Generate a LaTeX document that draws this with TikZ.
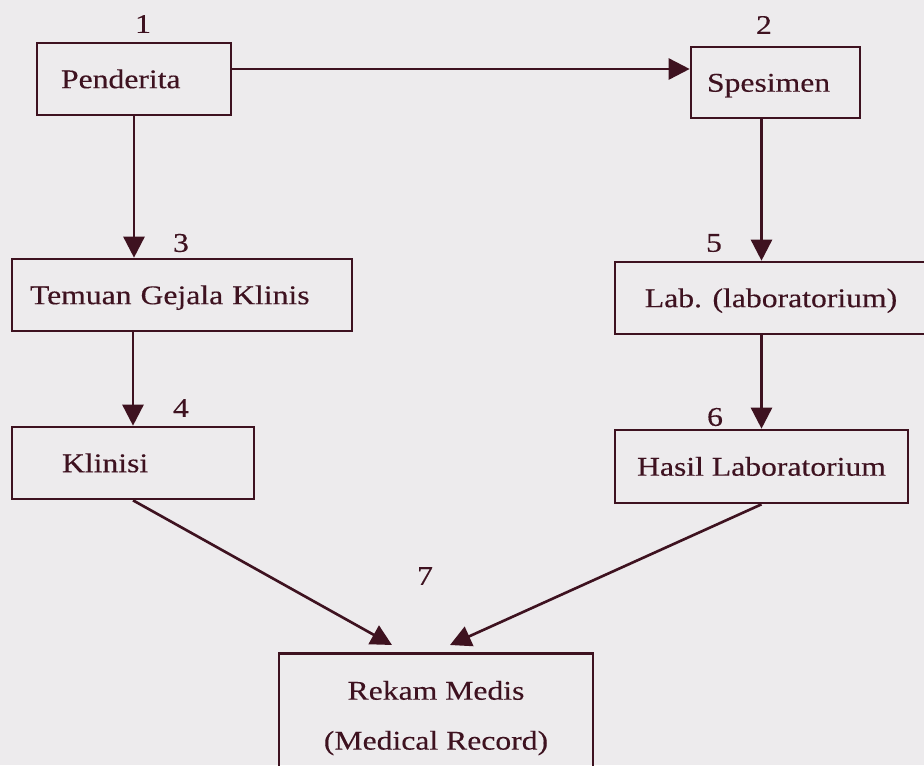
\documentclass[tikz,border=0pt]{standalone}
\usepackage{fontspec}
\setmainfont[FakeStretch=1.17,FakeBold=0.3]{Liberation Serif}
\usetikzlibrary{arrows.meta}
\usetikzlibrary{positioning}
\tikzset{>={Triangle[length=2.1mm,width=2.1mm]}}
\definecolor{paperGray}{RGB}{237,235,237}
\definecolor{inkMaroon}{RGB}{62,18,32}
\colorlet{background}{paperGray}
\colorlet{penColor}{inkMaroon}
\tikzset{
  box/.style={draw=penColor, line width=0.75pt, minimum height=0.72cm, inner ysep=0pt,
    text height=1.84mm, text depth=0pt, text=penColor},
  num/.style={text=penColor, inner sep=0pt},
  flow/.style={->, draw=penColor, line width=0.75pt},
}

\begin{document}
\begin{tikzpicture}[font=\fontsize{7.7}{14.2}\selectfont]
\useasboundingbox (0,0) rectangle (9.24,-7.65);
\clip (0,0) rectangle (9.24,-7.65);
\fill[background] (0,0) rectangle (9.24,-7.65);
% kotak alur
\node[box, align=left, inner xsep=2.4mm, text width=1.46cm] (pend) at (1.34,-0.79) {Penderita};
\node[box, align=left, inner xsep=1.6mm, text width=1.37cm, minimum height=0.71cm] (spes) at (7.755,-0.825) {Spesimen};
\node[box, align=left, inner xsep=1.8mm, text width=3.04cm] (temu) at (1.82,-2.95) {Temuan Gejala Klinis};
\node[box, align=left, inner xsep=5mm, text width=1.42cm] (klin) at (1.33,-4.63) {Klinisi};
\node[box, minimum width=3.12cm] (lab) at (7.71,-2.98) {Lab. (laboratorium)};
\node[box, minimum width=2.93cm, minimum height=0.73cm] (hasil) at (7.615,-4.665) {Hasil Laboratorium};
\node[draw=penColor, line width=0.75pt, text=penColor, anchor=north, align=center,
  minimum width=3.14cm, inner ysep=2.76mm] (rekam) at (4.36,-6.52) {Rekam Medis\\(Medical Record)};
% nomor
\node[num] (n1) at (1.43,-0.24) {1};
\node[num] (n2) at (7.64,-0.25) {2};
\node[num] (n3) at (1.81,-2.43) {3};
\node[num] (n4) at (1.81,-4.08) {4};
\node[num] (n5) at (7.14,-2.43) {5};
\node[num] (n6) at (7.15,-4.17) {6};
\node[num] (n7) at (4.25,-5.76) {7};
% panah
\draw[flow] ([yshift=1mm]pend.east) -- ([yshift=1mm]pend.east -| spes.west);
\draw[flow] (pend.south) -- (pend.south |- temu.north);
\draw[flow] (klin.north |- temu.south) -- (klin.north);
\draw[flow] (spes.south -| hasil.north) -- (lab.north -| hasil.north);
\draw[flow] (lab.south -| hasil.north) -- (hasil.north);
\draw[flow] (klin.south) -- ([xshift=-4.4mm,yshift=0.7mm]rekam.north);
\draw[flow] (hasil.south) -- ([xshift=1.4mm,yshift=0.7mm]rekam.north);
\end{tikzpicture}
\end{document}
